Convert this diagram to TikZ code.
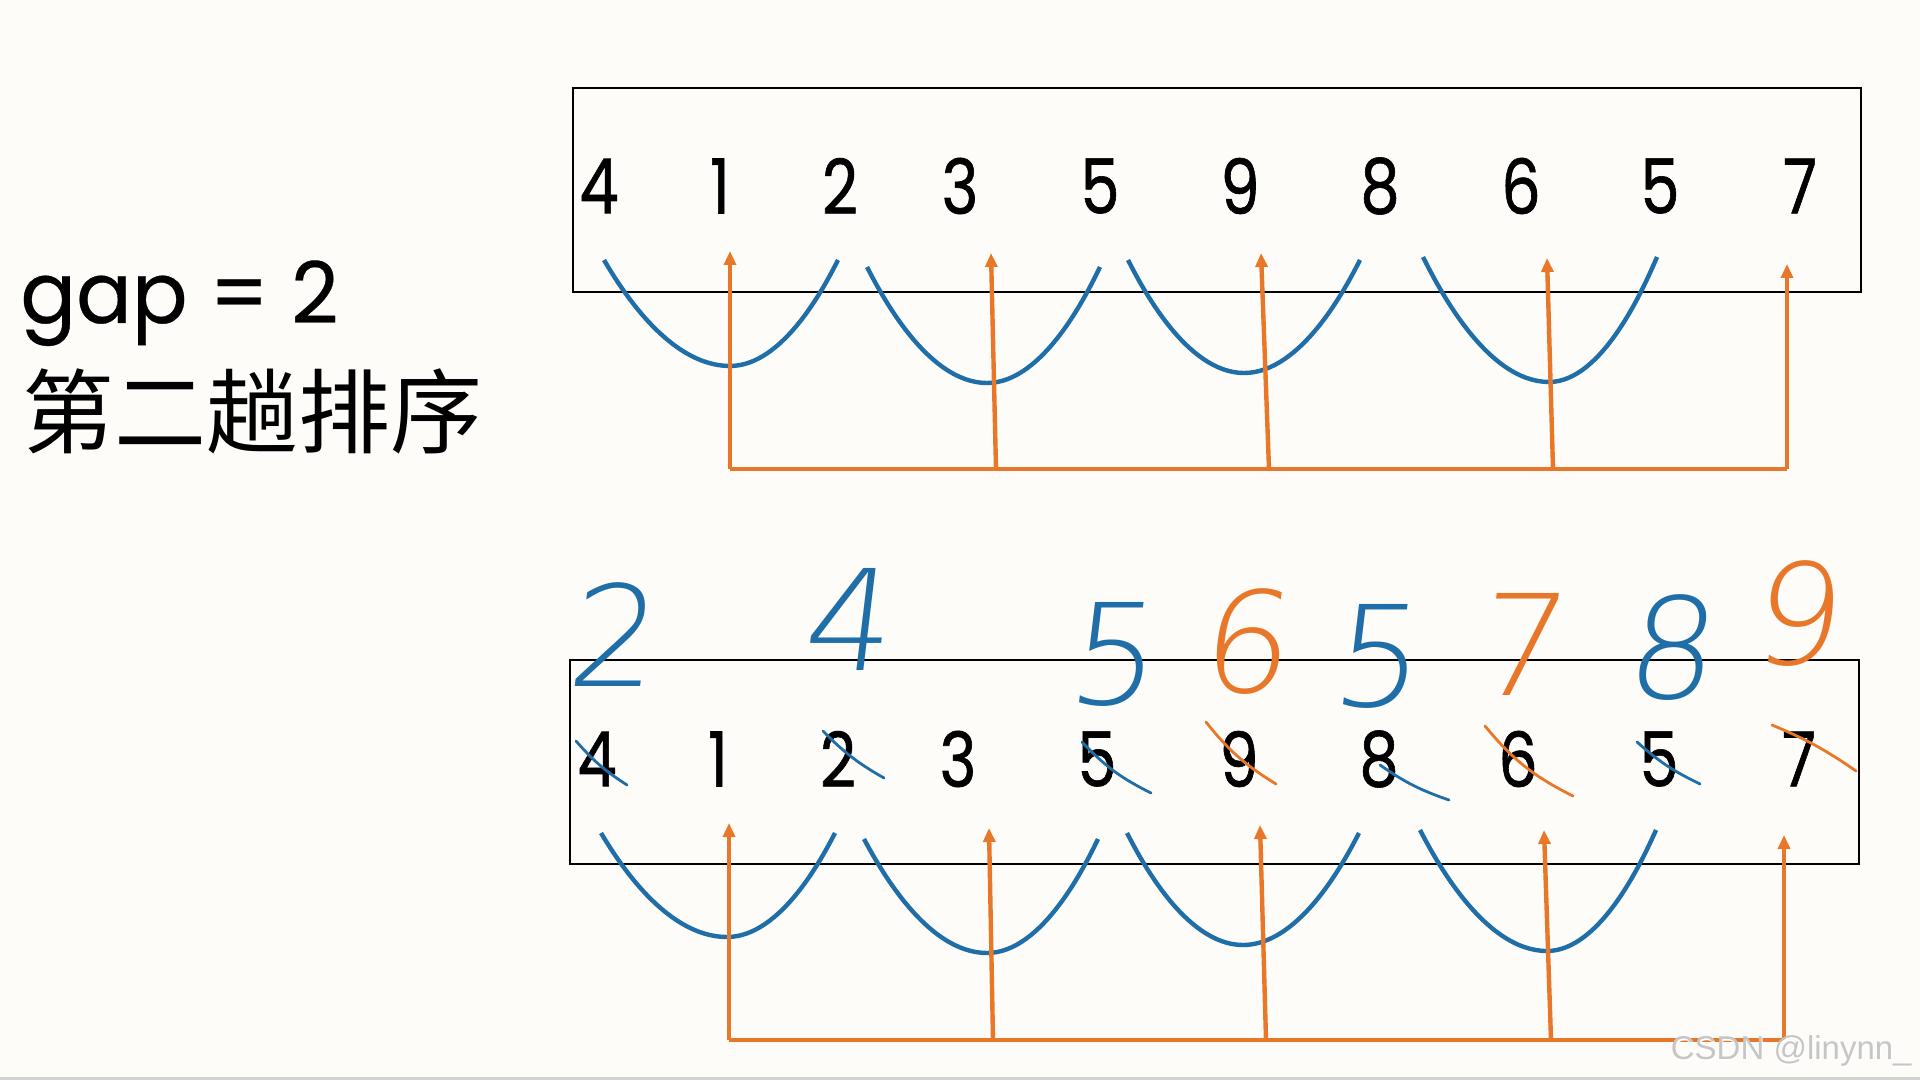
\documentclass[tikz,border=0pt]{standalone}
\usepackage{fontspec}
\setmainfont{Liberation Sans}
\newfontfamily\digitfont[FakeStretch=0.82,FakeBold=0.8]{Poppins}
\newfontfamily\labelfont[FakeStretch=0.97,FakeBold=0.4]{Poppins}
\newfontfamily\cjkfont{Noto Sans CJK SC}
\newfontfamily\handfont[FakeSlant=0.12]{DejaVu Sans ExtraLight}
\usetikzlibrary{arrows.meta}
\definecolor{bg}{HTML}{FDFCF9}
\definecolor{penblue}{HTML}{1F6EA8}
\definecolor{penorange}{HTML}{E8772A}
\begin{document}
\begin{tikzpicture}[x=0.5pt,y=-0.5pt,
  box/.style={draw=black,line width=1pt,inner sep=0pt,anchor=north west},
  num/.style={font=\digitfont\fontsize{38}{38}\selectfont,inner sep=0pt},
  arcline/.style={draw=penblue,line width=2.2pt},
  link/.style={draw=penorange,line width=2.2pt},
  up/.style={link,-{Triangle[length=7pt,width=6pt]}},
  hand/.style={font=\handfont\fontsize{70}{70}\selectfont,inner sep=0pt},
  strike/.style={line width=1.4pt,line cap=round}]
\fill[bg] (0,0) rectangle (1920,1080);
\useasboundingbox (0,0) rectangle (1920,1080);
\fill[gray!35] (0,1077) rectangle (1920,1080);

% left labels
\node[anchor=base west,inner sep=0pt,font=\labelfont\fontsize{42.5}{42.5}\selectfont] (gap) at (20,323) {gap = 2};
\node[anchor=base west,inner sep=0pt,font=\cjkfont\fontsize{46}{46}\selectfont] (title) at (22,446) {第二趟排序};

% boxes
\node[box,minimum width=644pt,minimum height=102pt] (topbox) at (572,87) {};
\node[box,minimum width=644.5pt,minimum height=102pt] (botbox) at (569,659) {};

% digits
\foreach \d/\x [count=\i] in {4/599,1/720,2/840,3/960,5/1100,9/1240,8/1380,6/1521,5/1660,7/1800}
  \node[num] (t\i) at (\x,186) {\d};
\foreach \d/\x [count=\i] in {4/597,1/718,2/838,3/958,5/1097,9/1239,8/1379,6/1518,5/1659,7/1799}
  \node[num] (b\i) at (\x,759) {\d};

% top blue arcs
\draw[arcline] (604,260) parabola bend (730,366) (838,260);
\draw[arcline] (867,267) parabola bend (987,383) (1100,267);
\draw[arcline] (1128,260) parabola bend (1244,373) (1360,260);
\draw[arcline] (1423,257) parabola bend (1549,382) (1657,257);

% bottom blue arcs
\draw[arcline] (601,833) parabola bend (727,937) (835,833);
\draw[arcline] (864,839) parabola bend (987,953) (1098,839);
\draw[arcline] (1127,833) parabola bend (1243,945) (1359,833);
\draw[arcline] (1420,830) parabola bend (1547,951) (1656,830);

% top orange connectors
\coordinate (tb1) at (730,469);
\coordinate (tb2) at (996,469);
\coordinate (tb3) at (1269,469);
\coordinate (tb4) at (1553,469);
\coordinate (tb5) at (1787,469);
\coordinate (tt1) at (730,251);
\coordinate (tt2) at (991,253);
\coordinate (tt3) at (1261,253);
\coordinate (tt4) at (1547,258);
\coordinate (tt5) at (1787,264);
\draw[link] (tb1) -- (tb5);
\foreach \i in {1,...,5} \draw[up] (tb\i) -- (tt\i);

% bottom orange connectors
\coordinate (bb1) at (729,1040);
\coordinate (bb2) at (993,1040);
\coordinate (bb3) at (1266,1040);
\coordinate (bb4) at (1551,1040);
\coordinate (bb5) at (1784,1040);
\coordinate (bt1) at (729,823);
\coordinate (bt2) at (989,828);
\coordinate (bt3) at (1260,825);
\coordinate (bt4) at (1544,830);
\coordinate (bt5) at (1784,835);
\draw[link] (bb1) -- (bb5);
\foreach \i in {1,...,5} \draw[up] (bb\i) -- (bt\i);

% handwritten new values
\node[hand,text=penblue] (h1) at (610,635) {2};
\node[hand,text=penblue] (h2) at (845,619) {4};
\node[hand,text=penblue] (h3) at (1110,654) {5};
\node[hand,text=penorange] (h4) at (1243,642) {6};
\node[hand,text=penblue] (h5) at (1374,656) {5};
\node[hand,text=penorange] (h6) at (1518,644) {7};
\node[hand,text=penblue] (h7) at (1668,648) {8};
\node[hand,text=penorange] (h8) at (1794,614) {9};

% strike-outs
\draw[strike,penblue] (576,741) to[bend right=8] (627,785);
\draw[strike,penblue] (823,731) to[bend right=8] (884,778);
\draw[strike,penblue] (1082,742) to[bend right=10] (1151,793);
\draw[strike,penorange] (1206,722) to[bend right=10] (1276,784);
\draw[strike,penblue] (1380,765) to[bend right=8] (1449,800);
\draw[strike,penorange] (1485,726) to[bend right=12] (1573,796);
\draw[strike,penblue] (1637,742) to[bend right=8] (1700,784);
\draw[strike,penorange] (1772,725) to[bend left=6] (1856,771);

% watermark
\node[anchor=base east,inner sep=0pt,text=white,font=\fontsize{16.5}{16.5}\selectfont] at (1913,1061) {CSDN @linynn\_};
\node[anchor=base east,inner sep=0pt,text=gray!45,font=\fontsize{16.5}{16.5}\selectfont] (wm) at (1912,1059) {CSDN @linynn\_};
\end{tikzpicture}
\end{document}
